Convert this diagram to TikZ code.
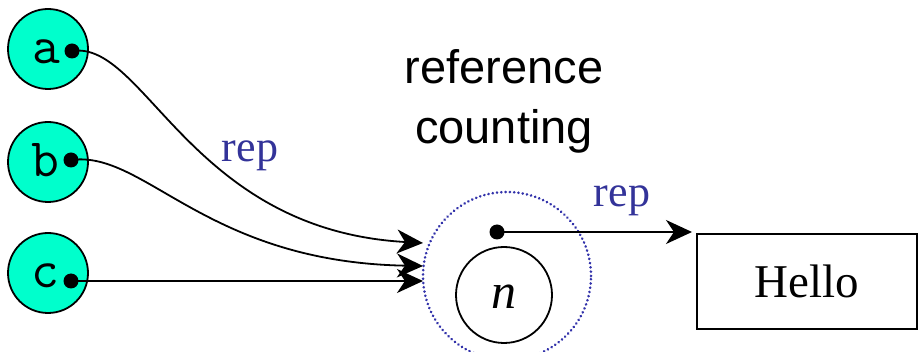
\documentclass[tikz,border=0pt]{standalone}
\usepackage{fontspec}
\setmainfont{Liberation Serif}
\newfontfamily\sansfont{Liberation Sans}
\usetikzlibrary{arrows.meta}
\definecolor{turq}{RGB}{0,255,204}
\definecolor{repblue}{RGB}{51,51,153}
\definecolor{dotblue}{RGB}{50,50,170}
\tikzset{
  var/.style={circle,draw,line width=1.8pt,fill=turq,minimum size=80pt,inner sep=0pt},
  varlabel/.style={font=\ttfamily\fontsize{54}{54}\selectfont,anchor=base,inner sep=0pt},
  ptr/.style={circle,fill=black,minimum size=15pt,inner sep=0pt},
  link/.style={line width=1.8pt,-{Stealth[length=26pt,width=24pt,inset=8pt]}},
  replabel/.style={text=repblue,font=\fontsize{44}{44}\selectfont,anchor=base,inner sep=0pt},
}
\begin{document}
\begin{tikzpicture}[x=1pt,y=-1pt]
\useasboundingbox (0,0) rectangle (918,352);
% variables
\node[var] (a) at (48,49) {};
\node[var] (b) at (48,162) {};
\node[var] (c) at (48,273) {};
\node[varlabel] (la) at (46,64) {a};
\node[varlabel] (lb) at (45,177) {b};
\node[varlabel] (lc) at (45,288) {c};
\node[ptr] (da) at (72,51) {};
\node[ptr] (db) at (71,160) {};
\node[ptr] (dc) at (71,281) {};
% reference counting object
\node[circle,draw=dotblue,line width=2.8pt,dash pattern=on 0.1pt off 4.2pt,line cap=round,minimum size=168pt,inner sep=0pt] (rc) at (507,276) {};
\node[circle,draw,line width=1.8pt,minimum size=96pt,inner sep=0pt] (n) at (504,295) {};
\node[anchor=base,inner sep=0pt,font=\itshape\fontsize{50}{50}\selectfont] (nl) at (504,309) {n};
\node[ptr] (dr) at (497,232) {};
% targets
\coordinate (ta) at (423,243);
\coordinate (tb) at (423,266);
\coordinate (tc) at (423,281);
\node[draw,line width=1.8pt,minimum width=220pt,minimum height=95pt,inner sep=0pt,anchor=north west] (hello) at (696,233) {};
\node[anchor=base,inner sep=0pt,font=\fontsize{47}{47}\selectfont] (hl) at (807,298) {Hello};
\coordinate (th) at (692,232);
% links
\draw[link] (da.center) .. controls (145,40) and (190,230) .. (ta);
\draw[link] (db.center) .. controls (145,150) and (205,262) .. (tb);
\draw[link] (dc.center) -- (tc);
\draw[link] (dr.center) -- (th);
% labels
\node[replabel] (rep1) at (250,162) {rep};
\node[replabel] (rep2) at (622,207) {rep};
\node[align=center,inner sep=0pt,font=\sansfont\fontsize{47}{60}\selectfont] (refc) at (504,101) {reference\\counting};
\end{tikzpicture}
\end{document}
